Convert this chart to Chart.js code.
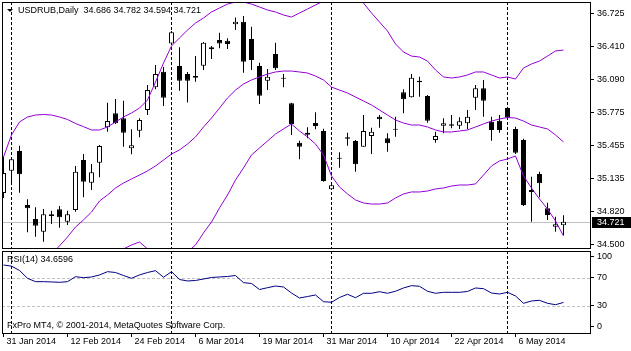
<!DOCTYPE html>
<html>
<head>
<meta charset="utf-8">
<script src="https://cdn.jsdelivr.net/npm/chart.js@4.4.1/dist/chart.umd.min.js"></script>
<style>
  html, body { margin: 0; padding: 0; background: #fff; }
  #wrap { position: relative; width: 631px; height: 351px; overflow: hidden; }
  #main { position: absolute; left: 0; top: 0; }
  #rsiPane { position: absolute; left: 0; top: 249px; }
</style>
</head>
<body>
<div id="wrap">
  <canvas id="main" width="631" height="250"></canvas>
  <canvas id="rsiPane" width="631" height="102"></canvas>
</div>
<script>
// USDRUB daily bars, 31 Jan - 15 May 2014
const dates = [
  '31 Jan 2014',
  '3 Feb 2014', '4 Feb 2014', '5 Feb 2014', '6 Feb 2014', '7 Feb 2014', '10 Feb 2014', '11 Feb 2014', '12 Feb 2014',
  '13 Feb 2014', '14 Feb 2014', '17 Feb 2014', '18 Feb 2014', '19 Feb 2014', '20 Feb 2014', '21 Feb 2014', '24 Feb 2014',
  '25 Feb 2014', '26 Feb 2014', '27 Feb 2014', '28 Feb 2014', '3 Mar 2014', '4 Mar 2014', '5 Mar 2014', '6 Mar 2014',
  '7 Mar 2014', '11 Mar 2014', '12 Mar 2014', '13 Mar 2014', '14 Mar 2014', '17 Mar 2014', '18 Mar 2014', '19 Mar 2014',
  '20 Mar 2014', '21 Mar 2014', '24 Mar 2014', '25 Mar 2014', '26 Mar 2014', '27 Mar 2014', '28 Mar 2014', '31 Mar 2014',
  '1 Apr 2014', '2 Apr 2014', '3 Apr 2014', '4 Apr 2014', '7 Apr 2014', '8 Apr 2014', '9 Apr 2014', '10 Apr 2014',
  '11 Apr 2014', '14 Apr 2014', '15 Apr 2014', '16 Apr 2014', '17 Apr 2014', '18 Apr 2014', '21 Apr 2014', '22 Apr 2014',
  '23 Apr 2014', '24 Apr 2014', '25 Apr 2014', '28 Apr 2014', '29 Apr 2014', '30 Apr 2014', '5 May 2014', '6 May 2014',
  '7 May 2014', '8 May 2014', '12 May 2014', '13 May 2014', '14 May 2014', '15 May 2014'
];

const opens = [34.997, 35.211, 35.401, 34.882, 34.747, 34.625, 34.792, 34.840, 34.721, 34.834,
  35.314, 35.096, 35.288, 35.629, 35.763, 35.715, 35.427, 35.596, 35.795, 36.013,
  36.163, 36.436, 36.218, 36.141, 36.122, 36.221, 36.379, 36.468, 36.462, 36.619,
  36.644, 36.478, 36.218, 36.077, 36.334, 36.106, 35.860, 35.481, 35.577, 35.670,
  35.593, 35.033, 35.337, 35.533, 35.497, 35.442, 35.545, 35.731, 35.523, 35.615,
  35.965, 35.917, 36.077, 35.930, 35.507, 35.644, 35.658, 35.644, 35.667, 35.913,
  36.004, 35.683, 35.692, 35.814, 35.613, 35.507, 35.026, 35.180, 34.850, 34.673, 34.686];
const highs = [35.343, 35.334, 35.452, 34.937, 34.860, 34.843, 34.827, 34.872, 34.827, 35.257,
  35.372, 35.276, 35.459, 35.865, 35.901, 35.885, 35.610, 35.715, 36.036, 36.228,
  36.209, 36.555, 36.398, 36.160, 36.314, 36.449, 36.410, 36.538, 36.485, 36.686,
  36.699, 36.596, 36.250, 36.189, 36.442, 36.141, 35.865, 35.500, 35.629, 35.773,
  35.615, 35.093, 35.388, 35.577, 35.507, 35.747, 35.625, 35.747, 35.571, 35.731,
  35.994, 36.141, 36.115, 35.939, 35.587, 35.715, 35.747, 35.725, 35.795, 36.036,
  36.084, 35.731, 35.747, 35.827, 35.635, 35.519, 35.154, 35.202, 34.904, 34.769, 34.782];
const lows = [34.949, 35.093, 35.000, 34.619, 34.577, 34.529, 34.699, 34.663, 34.690, 34.817,
  34.956, 35.026, 35.148, 35.587, 35.660, 35.442, 35.369, 35.533, 35.747, 35.994,
  35.834, 36.420, 35.981, 35.867, 36.067, 36.180, 36.286, 36.388, 36.382, 36.564,
  36.154, 36.180, 35.853, 35.988, 36.180, 36.013, 35.555, 35.321, 35.523, 35.610,
  35.106, 35.031, 35.240, 35.452, 35.202, 35.442, 35.372, 35.625, 35.394, 35.538,
  35.763, 35.915, 35.923, 35.673, 35.481, 35.571, 35.619, 35.613, 35.610, 35.795,
  35.731, 35.500, 35.577, 35.715, 35.372, 34.872, 34.721, 34.956, 34.737, 34.625, 34.594];
const closes = [35.189, 35.321, 35.177, 34.850, 34.683, 34.792, 34.776, 34.763, 34.792, 35.202,
  35.106, 35.196, 35.449, 35.689, 35.667, 35.577, 35.456, 35.699, 35.988, 36.141,
  35.913, 36.542, 36.077, 36.077, 36.106, 36.442, 36.398, 36.436, 36.430, 36.644,
  36.260, 36.276, 35.933, 36.115, 36.196, 36.096, 35.661, 35.442, 35.558, 35.641,
  35.112, 35.071, 35.327, 35.519, 35.273, 35.593, 35.587, 35.706, 35.475, 35.606,
  35.898, 36.106, 36.061, 35.692, 35.545, 35.667, 35.644, 35.686, 35.731, 36.004,
  35.885, 35.603, 35.603, 35.721, 35.385, 34.882, 35.007, 35.090, 34.786, 34.696, 34.721];

// Bollinger bands
const bbUpper = [35.343, 35.555, 35.680, 35.728, 35.747, 35.752, 35.747, 35.728, 35.704, 35.665,
  35.635, 35.603, 35.603, 35.632, 35.680, 35.728, 35.766, 35.814, 35.891, 36.064,
  36.247, 36.411, 36.488, 36.564, 36.632, 36.680, 36.738, 36.776, 36.814, 36.834,
  36.834, 36.814, 36.786, 36.757, 36.738, 36.709, 36.689, 36.728, 36.766, 36.805,
  36.843, 36.891, 36.920, 36.911, 36.872, 36.824, 36.728, 36.641, 36.555, 36.430,
  36.353, 36.314, 36.305, 36.266, 36.180, 36.113, 36.103, 36.113, 36.132, 36.161,
  36.161, 36.132, 36.103, 36.113, 36.093, 36.199, 36.238, 36.266, 36.314, 36.363, 36.372];
const bbMiddle = [34.112, 34.141, 34.180, 34.228, 34.286, 34.343, 34.411, 34.488, 34.574, 34.670,
  34.738, 34.814, 34.920, 34.978, 35.045, 35.093, 35.132, 35.170, 35.209, 35.257,
  35.314, 35.372, 35.411, 35.468, 35.536, 35.632, 35.718, 35.814, 35.911, 35.987,
  36.045, 36.084, 36.113, 36.141, 36.161, 36.170, 36.170, 36.161, 36.151, 36.122,
  36.084, 36.016, 35.987, 35.959, 35.920, 35.882, 35.843, 35.795, 35.747, 35.699,
  35.670, 35.651, 35.651, 35.632, 35.603, 35.584, 35.584, 35.593, 35.603, 35.632,
  35.661, 35.689, 35.709, 35.723, 35.718, 35.689, 35.651, 35.632, 35.613, 35.555, 35.488];
const bbLower = [32.882, 32.728, 32.680, 32.728, 32.824, 32.939, 33.074, 33.247, 33.449, 33.680,
  33.843, 34.026, 34.238, 34.324, 34.411, 34.459, 34.497, 34.526, 34.459, 34.391,
  34.334, 34.334, 34.353, 34.430, 34.497, 34.613, 34.718, 34.853, 34.978, 35.122,
  35.238, 35.363, 35.430, 35.497, 35.564, 35.613, 35.661, 35.593, 35.536, 35.468,
  35.363, 35.161, 35.055, 34.988, 34.930, 34.901, 34.891, 34.891, 34.901, 34.949,
  34.988, 35.007, 35.007, 35.016, 35.036, 35.045, 35.064, 35.074, 35.074, 35.084,
  35.170, 35.257, 35.305, 35.324, 35.353, 35.161, 35.045, 34.939, 34.843, 34.728, 34.584];

const rsi = [88.1, 86.5, 80.3, 69.1, 64.3, 64.3, 63.9, 63.4, 64.3, 71.4,
  70.0, 71.0, 73.9, 78.6, 77.4, 73.1, 69.1, 73.9, 77.4, 80.0,
  70.6, 78.6, 67.4, 65.3, 66.0, 68.1, 70.3, 71.0, 71.7, 73.1,
  62.9, 61.7, 53.1, 55.7, 58.1, 56.7, 48.1, 41.0, 43.1, 45.3,
  35.7, 34.9, 41.7, 46.3, 41.4, 47.7, 47.7, 50.0, 47.7, 50.6,
  55.3, 58.6, 57.7, 50.6, 47.7, 49.1, 49.1, 49.1, 50.3, 55.3,
  54.3, 48.1, 46.7, 49.1, 43.9, 33.4, 36.7, 37.7, 33.4, 31.4, 34.66];

const priceTicks = [34.500, 34.820, 35.135, 35.455, 35.775, 36.090, 36.410, 36.725];
const rsiTicks = [0, 30, 70, 100];
const rsiLevels = [30, 70];
const dateTickIdx = [0, 8, 16, 24, 32, 40, 48, 56, 64];

const titleText = 'USDRUB,Daily  34.686 34.782 34.594 34.721';
const rsiText = 'RSI(14) 34.6596';
const copyText = 'FxPro MT4, \u00a9 2001-2014, MetaQuotes Software Corp.';

const FONT = '"Liberation Sans", Arial, sans-serif';
Chart.defaults.font.family = FONT;
Chart.defaults.font.size = 9;
Chart.defaults.color = '#000';

const BB_COLOR = '#9400D3';
const X_MIN = -0.1875, X_MAX = 73.3125;

const idx = dates.map((d, i) => i);
const monthOf = s => s.split(' ')[1];
const sepIdx = idx.filter(i => i > 0 && monthOf(dates[i]) !== monthOf(dates[i - 1]));
const lastClose = closes[closes.length - 1];

function drawSeparators(chart) {
  const { ctx, chartArea: a, scales: { x } } = chart;
  ctx.save();
  ctx.strokeStyle = '#000';
  ctx.lineWidth = 1;
  ctx.setLineDash([3, 2]);
  sepIdx.forEach(i => {
    const px = Math.round(x.getPixelForValue(i) - 0.5) + 0.5;
    ctx.beginPath();
    ctx.moveTo(px, a.top);
    ctx.lineTo(px, a.bottom);
    ctx.stroke();
  });
  ctx.restore();
}

function drawFrame(chart) {
  const { ctx, chartArea: a } = chart;
  ctx.save();
  ctx.strokeStyle = '#000';
  ctx.lineWidth = 1;
  ctx.strokeRect(a.left + 0.5, a.top + 0.5, a.right - a.left, a.bottom - a.top);
  ctx.restore();
}

const mainDecor = {
  id: 'mainDecor',
  beforeDatasetsDraw(chart) {
    const { ctx, chartArea: a, scales: { y } } = chart;
    drawSeparators(chart);
    const py = Math.round(y.getPixelForValue(lastClose)) + 0.5;
    ctx.save();
    ctx.strokeStyle = '#C0C0C0';
    ctx.lineWidth = 1;
    ctx.beginPath();
    ctx.moveTo(a.left, py);
    ctx.lineTo(a.right, py);
    ctx.stroke();
    ctx.restore();
  },
  afterDraw(chart) {
    const { ctx, chartArea: a, scales: { y } } = chart;
    drawFrame(chart);
    ctx.save();
    // title
    ctx.fillStyle = '#000';
    ctx.beginPath();
    ctx.moveTo(7, 9);
    ctx.lineTo(13, 9);
    ctx.lineTo(10, 12);
    ctx.closePath();
    ctx.fill();
    ctx.font = '9px ' + FONT;
    ctx.textBaseline = 'alphabetic';
    ctx.textAlign = 'left';
    ctx.fillText(titleText, 18, 13);
    // current price box
    const py = Math.round(y.getPixelForValue(lastClose));
    ctx.fillRect(a.right + 2, py - 5, 40, 11);
    ctx.fillStyle = '#fff';
    ctx.textBaseline = 'middle';
    ctx.fillText(lastClose.toFixed(3), a.right + 7, py + 0.5);
    ctx.restore();
  }
};

const rsiDecor = {
  id: 'rsiDecor',
  beforeDatasetsDraw(chart) {
    const { ctx, chartArea: a, scales: { y } } = chart;
    ctx.save();
    ctx.strokeStyle = '#C0C0C0';
    ctx.lineWidth = 1;
    ctx.setLineDash([3, 2]);
    rsiLevels.forEach(v => {
      const py = Math.round(y.getPixelForValue(v)) + 0.5;
      ctx.beginPath();
      ctx.moveTo(a.left, py);
      ctx.lineTo(a.right, py);
      ctx.stroke();
    });
    ctx.restore();
    drawSeparators(chart);
  },
  afterDraw(chart) {
    const { ctx } = chart;
    drawFrame(chart);
    ctx.save();
    ctx.fillStyle = '#000';
    ctx.font = '9px ' + FONT;
    ctx.textBaseline = 'alphabetic';
    ctx.fillText(rsiText, 7, 13);
    ctx.fillText(copyText, 7, 79);
    ctx.restore();
  }
};

const rightAxis = (min, max, ticks, fmt) => ({
  position: 'right',
  min: min,
  max: max,
  afterBuildTicks: s => { s.ticks = ticks.map(v => ({ value: v })); },
  afterFit: s => { s.width = 41; s.paddingTop = 0; s.paddingBottom = 0; },
  ticks: { callback: fmt, padding: 3, color: '#000', autoSkip: false },
  grid: { drawOnChartArea: false, tickLength: 4, tickColor: '#000' },
  border: { display: false }
});

new Chart(document.getElementById('main'), {
  type: 'bar',
  data: {
    datasets: [
      { type: 'line', data: idx.map(i => ({ x: i, y: bbUpper[i] })), borderColor: BB_COLOR, borderWidth: 1, pointRadius: 0, order: 0 },
      { type: 'line', data: idx.map(i => ({ x: i, y: bbMiddle[i] })), borderColor: BB_COLOR, borderWidth: 1, pointRadius: 0, order: 0 },
      { type: 'line', data: idx.map(i => ({ x: i, y: bbLower[i] })), borderColor: BB_COLOR, borderWidth: 1, pointRadius: 0, order: 0 },
      {
        data: idx.map(i => ({ x: i, y: [Math.min(opens[i], closes[i]), Math.max(opens[i], closes[i])] })),
        backgroundColor: idx.map(i => closes[i] > opens[i] ? '#fff' : '#000'),
        borderColor: '#000', borderWidth: 1, borderSkipped: false,
        barThickness: 5, grouped: false, minBarLength: 1, inflateAmount: 0, order: 1
      },
      {
        data: idx.map(i => ({ x: i, y: [lows[i], highs[i]] })),
        backgroundColor: '#000', borderWidth: 0,
        barThickness: 1, grouped: false, inflateAmount: 0, order: 2
      }
    ]
  },
  options: {
    responsive: false,
    animation: false,
    events: [],
    layout: { padding: { left: 2, top: 2, right: 0, bottom: 2 } },
    plugins: { legend: { display: false }, tooltip: { enabled: false } },
    scales: {
      x: { type: 'linear', min: X_MIN, max: X_MAX, offset: false, display: false },
      y: rightAxis(34.468, 36.834, priceTicks, v => v.toFixed(3))
    }
  },
  plugins: [mainDecor]
});

new Chart(document.getElementById('rsiPane'), {
  type: 'line',
  data: {
    datasets: [{
      data: idx.map(i => ({ x: i, y: rsi[i] })),
      borderColor: '#000080', borderWidth: 1, pointRadius: 0
    }]
  },
  options: {
    responsive: false,
    animation: false,
    events: [],
    layout: { padding: { left: 2, top: 2, right: 0, bottom: 0 } },
    plugins: { legend: { display: false }, tooltip: { enabled: false } },
    scales: {
      x: {
        type: 'linear', min: X_MIN, max: X_MAX, offset: false,
        afterBuildTicks: s => { s.ticks = dateTickIdx.map(v => ({ value: v })); },
        afterFit: s => { s.height = 18; s.paddingLeft = 0; s.paddingRight = 0; },
        ticks: {
          callback: v => dates[v], align: 'start', labelOffset: 3, padding: -1,
          autoSkip: false, maxRotation: 0, color: '#000'
        },
        grid: { drawOnChartArea: false, tickLength: 4, tickColor: '#000' },
        border: { display: false }
      },
      y: rightAxis(-9, 108.1, rsiTicks, v => String(v))
    }
  },
  plugins: [rsiDecor]
});
</script>
</body>
</html>
